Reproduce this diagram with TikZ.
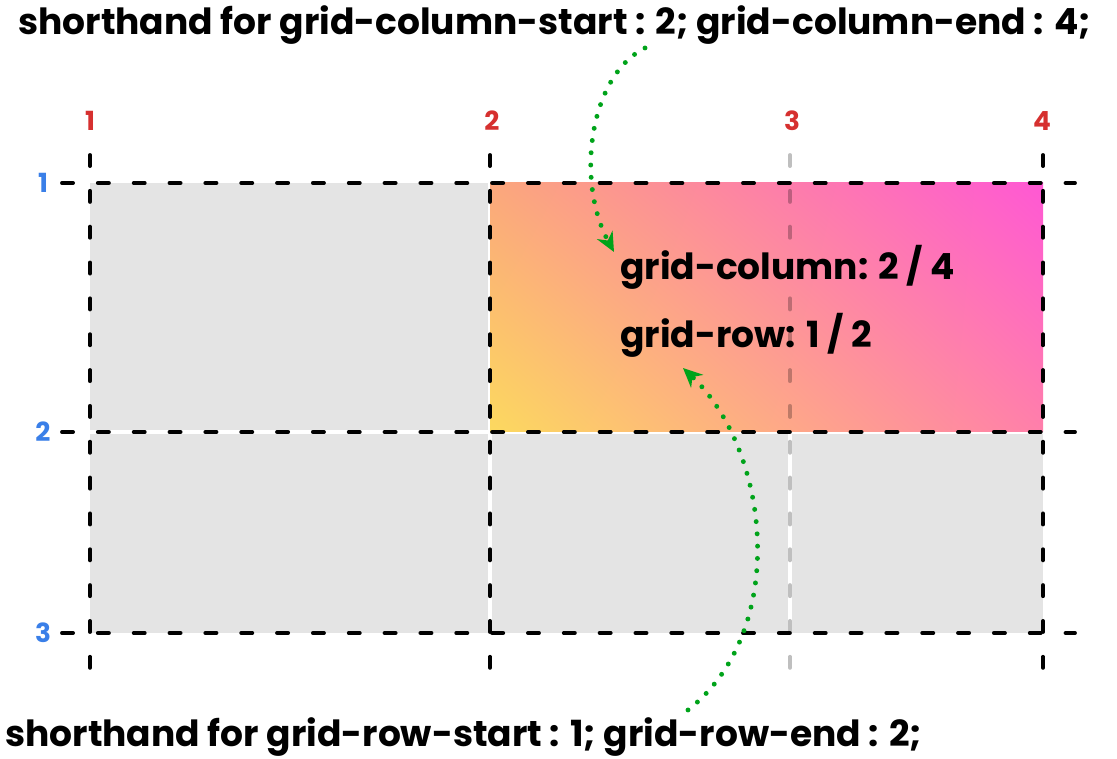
\documentclass[tikz,border=0pt]{standalone}
\usepackage{fontspec}
\setmainfont{Poppins}
\usetikzlibrary{arrows.meta,positioning,shadings}
\definecolor{cellgray}{HTML}{E4E4E4}
\definecolor{linered}{HTML}{D6302F}
\definecolor{lineblue}{HTML}{3A7FE8}
\definecolor{arrowgreen}{HTML}{00A31A}
\definecolor{gradyellow}{HTML}{FCD95F}
\definecolor{gradpeach}{HTML}{FBA77C}
\definecolor{gradpink}{HTML}{FF7FAA}
\definecolor{gradmagenta}{HTML}{FF58D4}

\begin{document}
\begin{tikzpicture}[
    x=0.02cm, y=-0.02cm,
    cell/.style={fill=cellgray, draw=none},
    gridline/.style={line width=2.2pt, line cap=round, dash pattern=on 6.3pt off 14.1pt},
    collabel/.style={text=linered, font=\fontsize{15}{17}\selectfont\bfseries},
    rowlabel/.style={text=lineblue, font=\fontsize{15}{17}\selectfont\bfseries},
    caption/.style={anchor=base west, inner sep=0pt, font=\fontsize{20.5}{24}\selectfont\bfseries},
    pointer/.style={arrowgreen, line width=2.8pt, line cap=round, dash pattern=on 0pt off 7pt, -{Stealth[length=11pt, width=10pt]}}
]
\useasboundingbox (0,0) rectangle (1117,759);

% cells
\fill[cell] (90,183) rectangle (488,430);
\fill[cell] (90,434) rectangle (488,633);
\fill[cell] (492,434) rectangle (788,633);
\fill[cell] (792,434) rectangle (1043,633);
\shade[upper left=gradpeach, upper right=gradmagenta, lower left=gradyellow, lower right=gradpink]
    (490,183) rectangle (1043,432);

% grid lines
\foreach \x in {90,490,1043}
    \draw[gridline] (\x,155) -- (\x,668);
\draw[gridline, black, opacity=0.25] (790,155) -- (790,668);
\foreach \y in {183,432,633}
    \draw[gridline] (62,\y) -- (1075,\y);

% line numbers
\foreach \x/\n in {90/1, 492/2, 792/3, 1042/4}
    \node[collabel] (col\n) at (\x,121) {\n};
\foreach \y/\n in {183/1, 432/2, 633/3}
    \node[rowlabel] (row\n) at (43,\y) {\n};

% texts
\node[caption] (toptext) at (18,35) {shorthand for grid-column-start : 2; grid-column-end : 4;};
\node[caption] (bottomtext) at (5,747) {shorthand for grid-row-start : 1; grid-row-end : 2;};
\node[caption] (colrule) at (620,280) {grid-column: 2 / 4};
\node[caption] (rowrule) at (620,348) {grid-row: 1 / 2};

% pointers
\coordinate (colfrom) at (645,48);
\coordinate (colto) at (614,252);
\coordinate (rowfrom) at (688,710);
\coordinate (rowto) at (683,368);
\draw[pointer] (colfrom) .. controls (590,75) and (575,180) .. (colto);
\draw[pointer] (rowfrom) .. controls (790,630) and (770,450) .. (rowto);
\end{tikzpicture}
\end{document}
